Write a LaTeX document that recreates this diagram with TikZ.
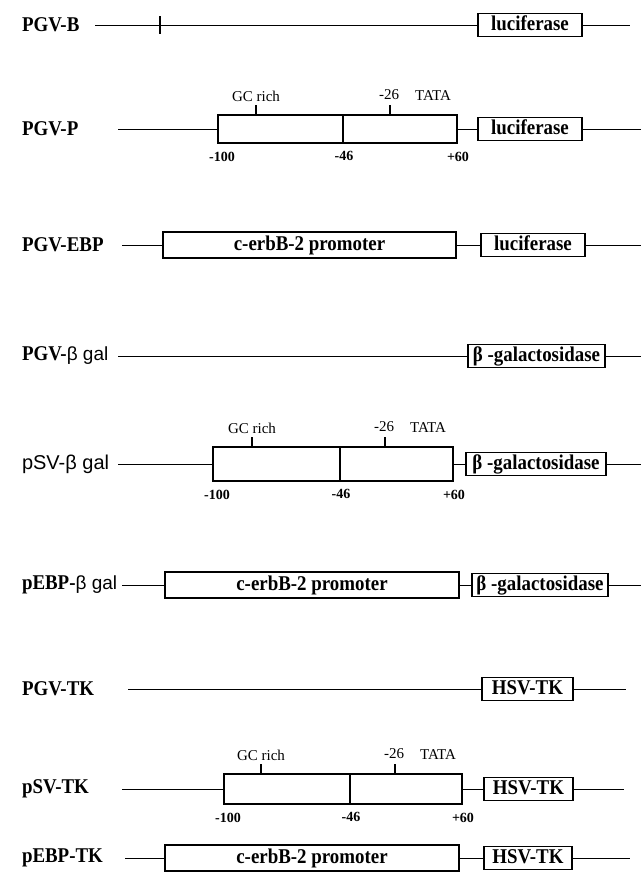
\documentclass[tikz,border=0pt]{standalone}
\usepackage{fontspec}
\setmainfont{Liberation Serif}
\newfontfamily\gsans{Liberation Sans}
\newfontfamily\condserif[FakeStretch=0.9]{Liberation Serif}
\begin{document}
\begin{tikzpicture}[x=1pt,y=-1pt,
  every node/.style={inner sep=0pt, outer sep=0pt},
  plabel/.style={anchor=west, font=\fontsize{21}{21}\condserif\bfseries},
  slabel/.style={anchor=west, font=\fontsize{20}{20}\gsans},
  boxtext/.style={font=\fontsize{21}{21}\condserif\bfseries, text height=14pt, text depth=3pt},
  gene/.style={draw, line width=1.1pt, minimum height=23pt, boxtext},
  promo/.style={draw, line width=1.1pt, minimum height=26pt, boxtext},
  seg/.style={draw, line width=1.1pt},
  backbone/.style={line width=0.9pt},
  tickln/.style={line width=1.1pt},
  annot/.style={font=\fontsize{15}{15}\selectfont},
  coordlbl/.style={font=\fontsize{14}{14}\selectfont\bfseries},
]
\useasboundingbox (0,0) rectangle (641,878);

% SV40-type promoter: two segments, GC-rich and TATA ticks, position labels
% #1 prefix, #2 line y, #3 left, #4 divider, #5 right,
% #6 GC tick x, #7 TATA tick x, #8 box height
\newcommand{\svbox}[8]{%
  \node[seg, minimum height=#8, minimum width={#4-#3}] (#1a) at ({(#3+#4)/2},#2) {};
  \node[seg, minimum height=#8, minimum width={#5-#4}] (#1b) at ({(#4+#5)/2},#2) {};
  \coordinate (#1gc) at (#6,{#2-#8/2-10});
  \coordinate (#1ta) at (#7,{#2-#8/2-10});
  \draw[tickln] (#1gc) -- (#1gc |- #1a.north);
  \draw[tickln] (#1ta) -- (#1ta |- #1b.north);
  \node[annot] (#1gct) at (#6,{#2-#8/2-19}) {GC rich};
  \node[annot] (#1tt) at ({#7-1},{#2-#8/2-20}) {-26};
  \node[annot] (#1tata) at ({#7+43},{#2-#8/2-19}) {TATA};
  \node[coordlbl] (#1m100) at ({#3+4},{#2+#8/2+14}) {-100};
  \node[coordlbl] (#1m46) at ({#4+1},{#2+#8/2+13}) {-46};
  \node[coordlbl] (#1p60) at ({#5+1},{#2+#8/2+14}) {+60};
}

% PGV-B
\node[plabel] (n1) at (22,25) {PGV-B};
\coordinate (s1) at (95,25);
\coordinate (e1) at (630,25);
\node[gene, minimum width=104] (g1) at (530,25) {luciferase};
\coordinate (t1a) at (160,16);
\coordinate (t1b) at (160,34);
\draw[backbone] (s1) -- (g1.west);
\draw[backbone] (g1.east) -- (e1);
\draw[tickln] (t1a) -- (t1b);

% PGV-P
\node[plabel] (n2) at (22,129) {PGV-P};
\coordinate (s2) at (118,129);
\coordinate (e2) at (641,129);
\svbox{r2}{129}{218}{343}{457}{256}{390}{28}
\node[gene, minimum width=104] (g2) at (530,129) {luciferase};
\draw[backbone] (s2) -- (r2a.west);
\draw[backbone] (r2b.east) -- (g2.west);
\draw[backbone] (g2.east) -- (e2);

% PGV-EBP
\node[plabel] (n3) at (22,245) {PGV-EBP};
\coordinate (s3) at (122,245);
\coordinate (e3) at (641,245);
\node[promo, minimum width=293] (p3) at (309.5,245) {c-erbB-2 promoter};
\node[gene, minimum width=104] (g3) at (533,245) {luciferase};
\draw[backbone] (s3) -- (p3.west);
\draw[backbone] (p3.east) -- (g3.west);
\draw[backbone] (g3.east) -- (e3);

% PGV-beta gal
\node[plabel] (n4) at (22,356) {PGV-{\fontsize{19}{19}\gsans\mdseries β gal}};
\coordinate (s4) at (118,356);
\coordinate (e4) at (641,356);
\node[gene, minimum width=137] (g4) at (536.5,356) {β -galactosidase};
\draw[backbone] (s4) -- (g4.west);
\draw[backbone] (g4.east) -- (e4);

% pSV-beta gal
\node[slabel] (n5) at (22,464) {pSV-β gal};
\coordinate (s5) at (118,464);
\coordinate (e5) at (641,464);
\svbox{r5}{464}{213}{340}{453}{252}{385}{34}
\node[gene, minimum width=140] (g5) at (536,464) {β -galactosidase};
\draw[backbone] (s5) -- (r5a.west);
\draw[backbone] (r5b.east) -- (g5.west);
\draw[backbone] (g5.east) -- (e5);

% pEBP-beta gal
\node[plabel] (n6) at (22,585) {pEBP-{\fontsize{19}{19}\gsans\mdseries β gal}};
\coordinate (s6) at (122,585);
\coordinate (e6) at (641,585);
\node[promo, minimum width=294] (p6) at (312,585) {c-erbB-2 promoter};
\node[gene, minimum width=136] (g6) at (540,585) {β -galactosidase};
\draw[backbone] (s6) -- (p6.west);
\draw[backbone] (p6.east) -- (g6.west);
\draw[backbone] (g6.east) -- (e6);

% PGV-TK
\node[plabel] (n7) at (22,689) {PGV-TK};
\coordinate (s7) at (128,689);
\coordinate (e7) at (626,689);
\node[gene, minimum width=91] (g7) at (527.5,689) {HSV-TK};
\draw[backbone] (s7) -- (g7.west);
\draw[backbone] (g7.east) -- (e7);

% pSV-TK
\node[plabel] (n8) at (22,789) {pSV-TK};
\coordinate (s8) at (122,789);
\coordinate (e8) at (624,789);
\svbox{r8}{789}{224}{350}{462}{261}{395}{30}
\node[gene, minimum width=89] (g8) at (528.5,789) {HSV-TK};
\draw[backbone] (s8) -- (r8a.west);
\draw[backbone] (r8b.east) -- (g8.west);
\draw[backbone] (g8.east) -- (e8);

% pEBP-TK
\node[plabel] (n9) at (22,858) {pEBP-TK};
\coordinate (s9) at (125,858);
\coordinate (e9) at (630,858);
\node[promo, minimum width=294] (p9) at (312,858) {c-erbB-2 promoter};
\node[gene, minimum width=88] (g9) at (528,858) {HSV-TK};
\draw[backbone] (s9) -- (p9.west);
\draw[backbone] (p9.east) -- (g9.west);
\draw[backbone] (g9.east) -- (e9);
\end{tikzpicture}
\end{document}
